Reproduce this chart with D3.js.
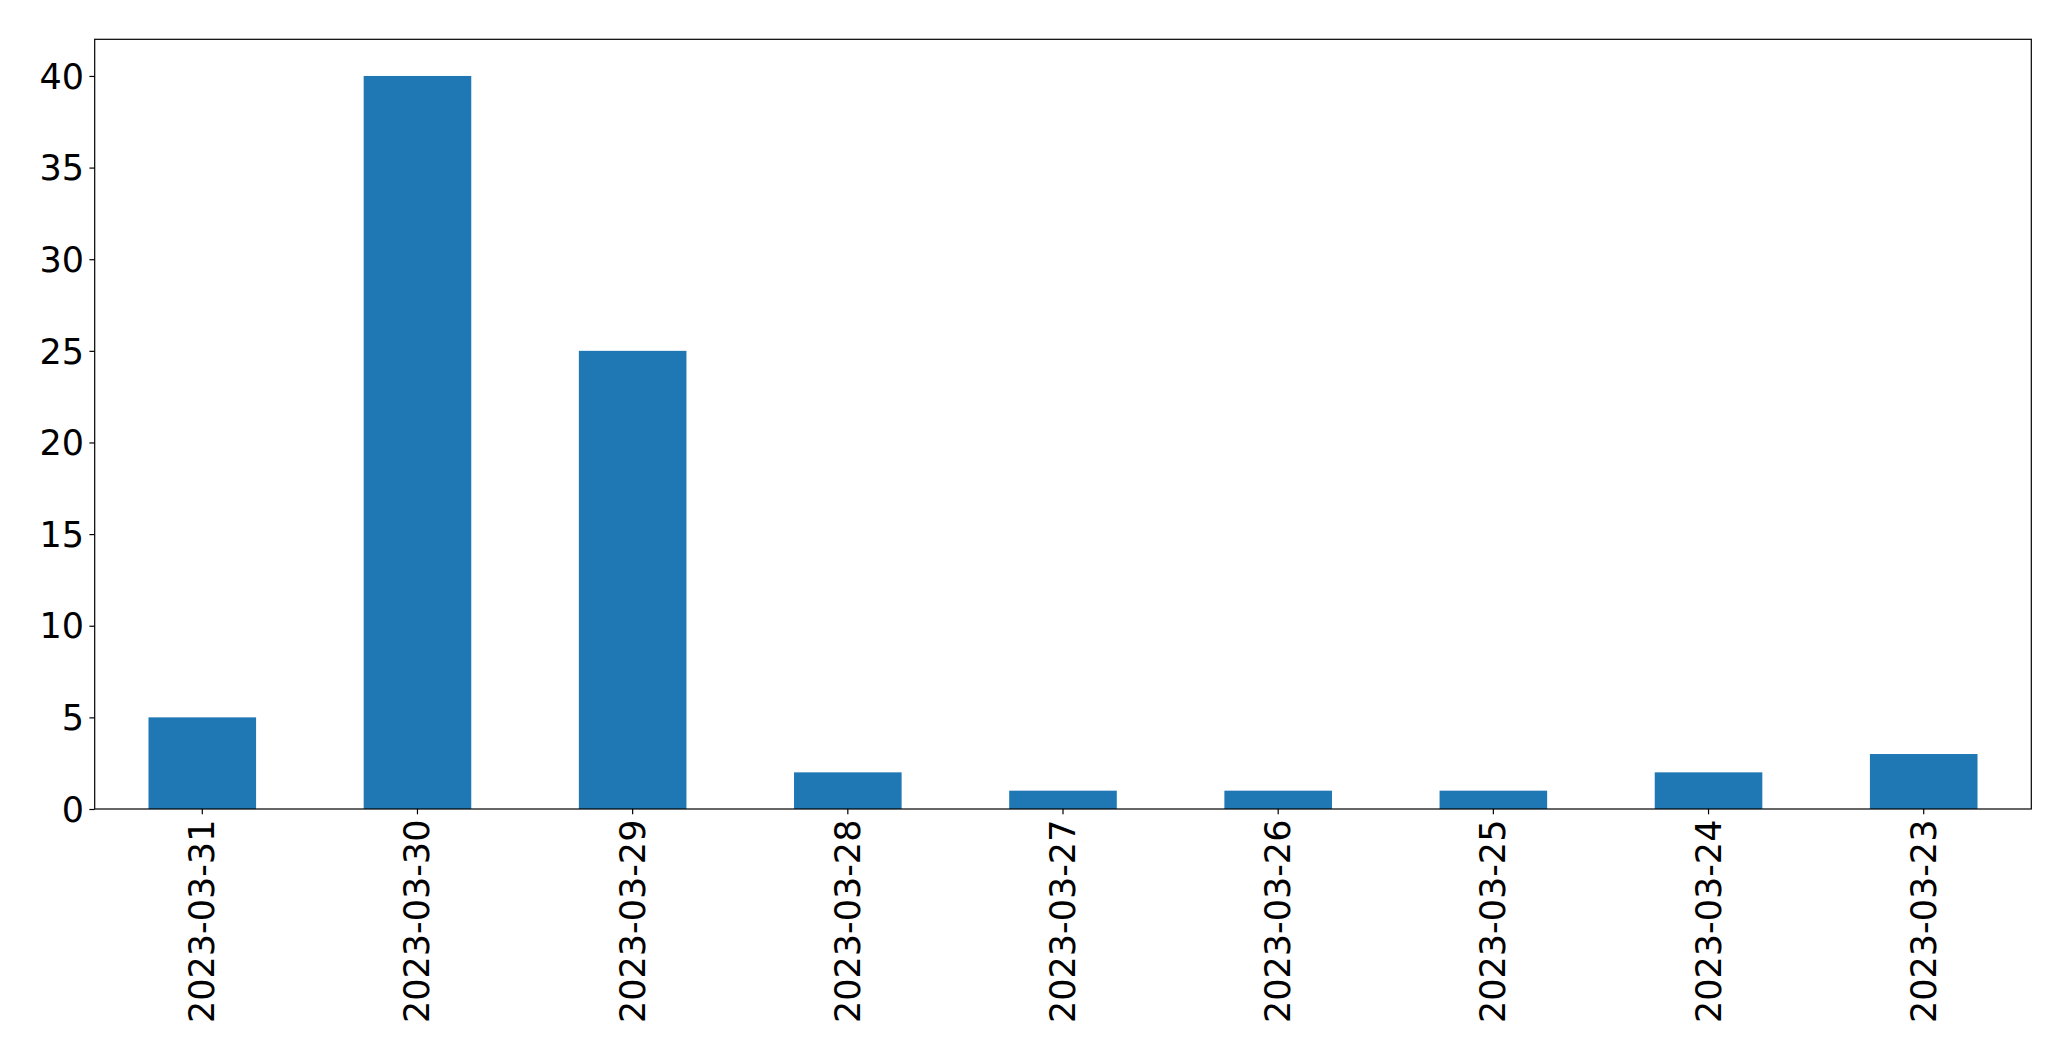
<!DOCTYPE html>
<html>
<head>
<meta charset="utf-8">
<script src="https://cdn.jsdelivr.net/npm/d3@7"></script>
<style>
  html, body { margin: 0; padding: 0; background: #fff; }
  svg { display: block; }
</style>
</head>
<body>
<svg id="chart" width="2071" height="1061"></svg>
<script>
const categories = ["2023-03-31","2023-03-30","2023-03-29","2023-03-28","2023-03-27","2023-03-26","2023-03-25","2023-03-24","2023-03-23"];
const values = [5, 40, 25, 2, 1, 1, 1, 2, 3];
const yTicks = [0, 5, 10, 15, 20, 25, 30, 35, 40];

const W = 2071, H = 1061;
const m = { left: 94.7, right: W - 2031.3, top: 39.3, bottom: H - 809 };
const svg = d3.select("#chart");
const iw = W - m.left - m.right, ih = H - m.top - m.bottom;
const g = svg.append("g").attr("transform", `translate(${m.left},${m.top})`);

const x = d3.scaleBand().domain(categories).range([0, iw]).paddingInner(0.5).paddingOuter(0.25);
const y = d3.scaleLinear().domain([0, 42]).range([ih, 0]);

g.selectAll("rect.bar").data(values).join("rect")
  .attr("class", "bar")
  .attr("x", (d, i) => x(categories[i]))
  .attr("width", x.bandwidth())
  .attr("y", d => y(d))
  .attr("height", d => y(0) - y(d))
  .attr("fill", "#1f77b4");

const font = "'DejaVu Sans', sans-serif";

const yAxis = g.append("g").call(d3.axisLeft(y).tickValues(yTicks).tickSize(5.3).tickPadding(5.3).tickFormat(d3.format("d")));
yAxis.select(".domain").remove();
yAxis.selectAll("line").attr("stroke", "#000").attr("stroke-width", 1.2);
yAxis.selectAll("text").attr("font-family", font).attr("font-size", 35).attr("fill", "#000").attr("dy", "0.35em");

const xAxis = g.append("g").attr("transform", `translate(0,${ih})`)
  .call(d3.axisBottom(x).tickSize(5.3).tickPadding(0));
xAxis.select(".domain").remove();
xAxis.selectAll("line").attr("stroke", "#000").attr("stroke-width", 1.2);
xAxis.selectAll("text")
  .attr("font-family", font).attr("font-size", 35).attr("fill", "#000")
  .attr("text-anchor", "end")
  .attr("dy", null)
  .attr("dominant-baseline", "central")
  .attr("transform", "translate(0,10.6) rotate(-90)")
  .attr("x", 0).attr("y", 0);

g.append("rect").attr("x", 0).attr("y", 0).attr("width", iw).attr("height", ih)
  .attr("fill", "none").attr("stroke", "#000").attr("stroke-width", 1.2);
</script>
</body>
</html>
